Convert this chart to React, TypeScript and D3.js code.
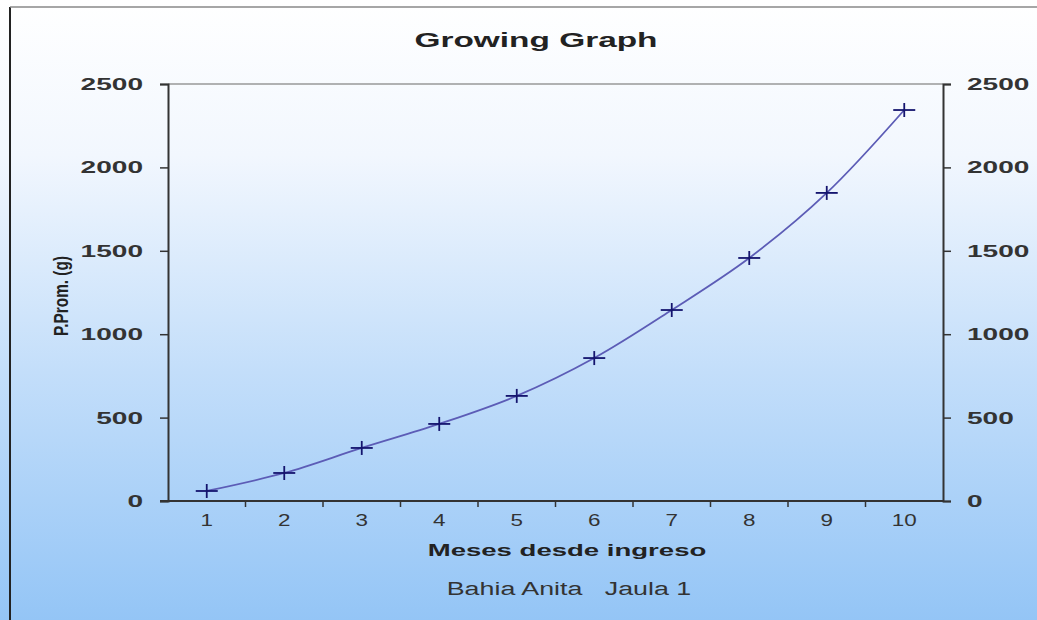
import React, { useEffect, useRef } from 'react';
import * as d3 from 'd3';

const months = ['1', '2', '3', '4', '5', '6', '7', '8', '9', '10'];
const weights = [60, 168, 318, 462, 630, 857, 1145, 1457, 1847, 2344];
const yTicks = [0, 500, 1000, 1500, 2000, 2500];

const W = 1037;
const H = 620;

const App: React.FC = () => {
  const svgRef = useRef<SVGSVGElement>(null);

  useEffect(() => {
    if (!svgRef.current) return;
    const svg = d3.select(svgRef.current);
    svg.selectAll('*').remove();

    const margin = { top: 84, right: 94, bottom: 119, left: 168 };
    const innerWidth = W - margin.left - margin.right;
    const innerHeight = H - margin.top - margin.bottom;

    // Background gradient
    const defs = svg.append('defs');
    const grad = defs.append('linearGradient')
      .attr('id', 'bg')
      .attr('x1', 0).attr('y1', 0).attr('x2', 0).attr('y2', 1);
    grad.append('stop').attr('offset', '0%').attr('stop-color', '#ffffff');
    grad.append('stop').attr('offset', '25%').attr('stop-color', '#f2f7fe');
    grad.append('stop').attr('offset', '60%').attr('stop-color', '#c3defa');
    grad.append('stop').attr('offset', '100%').attr('stop-color', '#94c5f6');

    svg.append('rect')
      .attr('width', W).attr('height', H)
      .attr('fill', 'url(#bg)');

    // Outer frame
    svg.append('line')
      .attr('x1', 10).attr('x2', 10).attr('y1', 7).attr('y2', H)
      .attr('stroke', '#222').attr('stroke-width', 2);
    svg.append('line')
      .attr('x1', 10).attr('x2', W).attr('y1', 7).attr('y2', 7)
      .attr('stroke', '#888').attr('stroke-width', 1.5);

    const g = svg.append('g')
      .attr('transform', `translate(${margin.left},${margin.top})`);

    const x = d3.scaleBand()
      .domain(months)
      .range([0, innerWidth])
      .padding(0);

    const y = d3.scaleLinear()
      .domain([0, 2500])
      .range([innerHeight, 0]);

    // Top border of plot area
    g.append('line')
      .attr('x1', 0).attr('x2', innerWidth)
      .attr('y1', 0).attr('y2', 0)
      .attr('stroke', '#999').attr('stroke-width', 1.5);

    const font = 'Arial, "Liberation Sans", sans-serif';

    // Left axis
    const left = g.append('g')
      .call(d3.axisLeft(y).tickValues(yTicks).tickFormat(d3.format('d')).tickSize(8).tickPadding(17));
    // Right axis
    const right = g.append('g')
      .attr('transform', `translate(${innerWidth},0)`)
      .call(d3.axisRight(y).tickValues(yTicks).tickFormat(d3.format('d')).tickSize(8).tickPadding(16));

    [left, right].forEach(ax => {
      ax.select('.domain').attr('stroke', '#333').attr('stroke-width', 2);
      ax.selectAll('.tick line').attr('stroke', '#333').attr('stroke-width', 1.5);
      ax.selectAll('.tick text')
        .attr('class', 'stretch')
        .attr('data-k', 1.65)
        .attr('fill', '#333')
        .style('font-family', font)
        .style('font-size', '17px')
        .style('font-weight', 'bold');
    });

    // Bottom axis: ticks between categories
    const bottom = g.append('g')
      .attr('transform', `translate(0,${innerHeight})`);
    bottom.append('line')
      .attr('x1', -8).attr('x2', innerWidth)
      .attr('stroke', '#333').attr('stroke-width', 2);
    bottom.selectAll('.sep')
      .data(months.slice(1))
      .enter()
      .append('line')
      .attr('x1', d => x(d) || 0)
      .attr('x2', d => x(d) || 0)
      .attr('y1', 0).attr('y2', 6)
      .attr('stroke', '#333').attr('stroke-width', 1.5);
    bottom.selectAll('.lbl')
      .data(months)
      .enter()
      .append('text')
      .attr('class', 'stretch')
      .attr('data-k', 1.4)
      .attr('x', d => (x(d) || 0) + x.bandwidth() / 2)
      .attr('y', 25)
      .attr('text-anchor', 'middle')
      .attr('fill', '#333')
      .style('font-family', font)
      .style('font-size', '16px')
      .text(d => d);

    // Line
    const line = d3.line<number>()
      .x((_, i) => (x(months[i]) || 0) + x.bandwidth() / 2)
      .y(d => y(d))
      .curve(d3.curveCatmullRom.alpha(0.5));

    g.append('path')
      .datum(weights)
      .attr('fill', 'none')
      .attr('stroke', '#5c5cb6')
      .attr('stroke-width', 1.8)
      .attr('d', line);

    // Plus markers
    const markers = g.selectAll('.pt')
      .data(weights)
      .enter()
      .append('g')
      .attr('transform', (d, i) => `translate(${(x(months[i]) || 0) + x.bandwidth() / 2},${y(d)})`);
    markers.append('line')
      .attr('x1', -11).attr('x2', 11)
      .attr('stroke', '#14146e').attr('stroke-width', 1.8);
    markers.append('line')
      .attr('y1', -7).attr('y2', 7)
      .attr('stroke', '#14146e').attr('stroke-width', 1.8);

    // Title
    svg.append('text')
      .attr('class', 'stretch')
      .attr('data-k', 1.59)
      .attr('x', 536).attr('y', 47)
      .attr('text-anchor', 'middle')
      .attr('fill', '#222')
      .style('font-family', font)
      .style('font-size', '21px')
      .style('font-weight', 'bold')
      .text('Growing Graph');

    // X axis title
    svg.append('text')
      .attr('class', 'stretch')
      .attr('data-k', 1.62)
      .attr('x', 567).attr('y', 556)
      .attr('text-anchor', 'middle')
      .attr('fill', '#222')
      .style('font-family', font)
      .style('font-size', '17px')
      .style('font-weight', 'bold')
      .text('Meses desde ingreso');

    // Subtitle
    svg.append('text')
      .attr('class', 'stretch')
      .attr('data-k', 1.49)
      .attr('x', 569).attr('y', 595)
      .attr('text-anchor', 'middle')
      .attr('fill', '#333')
      .style('font-family', font)
      .style('font-size', '18px')
      .style('white-space', 'pre')
      .text('Bahia Anita   Jaula 1');

    // Y axis title (rotated, so the sideways stretch squeezes it along its length)
    svg.append('text')
      .attr('transform', 'translate(68,296) rotate(-90)')
      .attr('text-anchor', 'middle')
      .attr('fill', '#222')
      .style('font-family', font)
      .style('font-size', '20px')
      .style('font-weight', 'bold')
      .attr('textLength', 80)
      .attr('lengthAdjust', 'spacingAndGlyphs')
      .text('P.Prom. (g)');

    // the source picture is stretched sideways, so its text is too
    svg.selectAll<SVGTextElement, unknown>('text.stretch').each(function () {
      const k = +(this.getAttribute('data-k') || 1);
      const len = this.getComputedTextLength();
      d3.select(this)
        .attr('textLength', len * k)
        .attr('lengthAdjust', 'spacingAndGlyphs');
    });
  }, []);

  return (
    <svg
      ref={svgRef}
      width={W}
      height={H}
      style={{ position: 'absolute', left: 0, top: 0, display: 'block' }}
    />
  );
};

export default App;
